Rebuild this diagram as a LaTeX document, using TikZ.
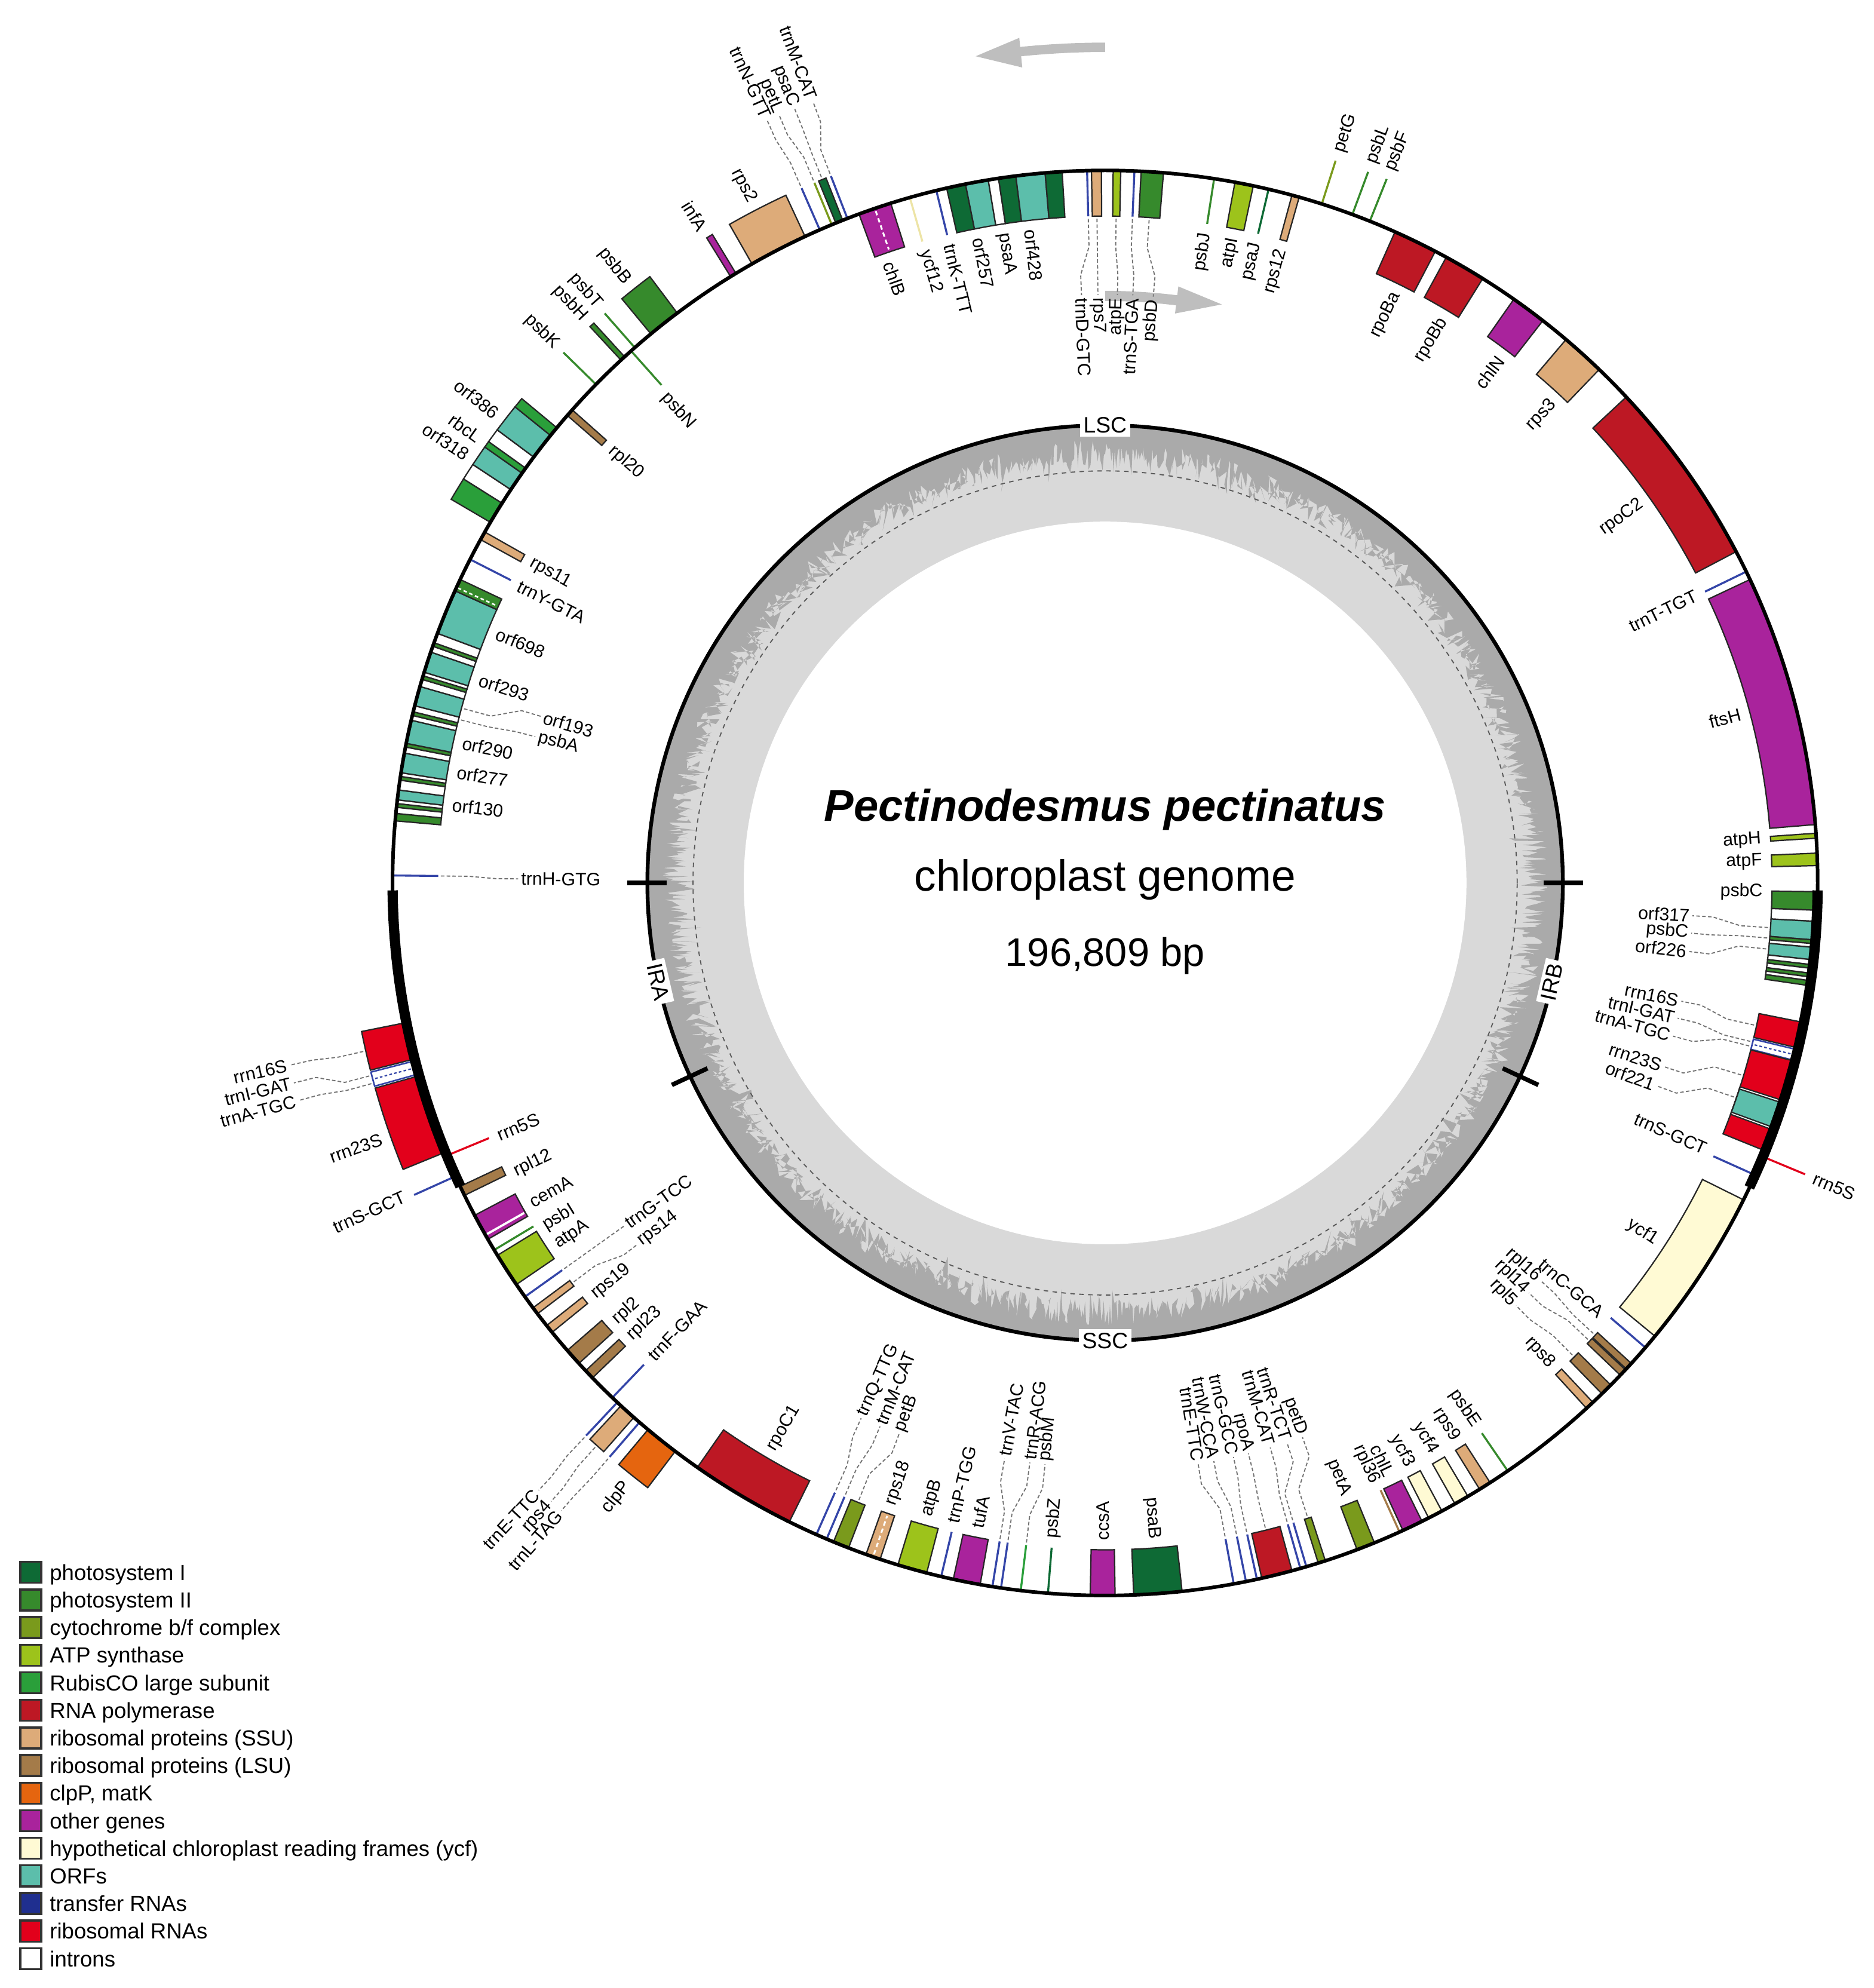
\documentclass[tikz,border=0pt]{standalone}
\usepackage{fontspec}
\setmainfont{Liberation Sans}
\definecolor{cPSI}{HTML}{0E6A35}
\definecolor{cPSII}{HTML}{368A2C}
\definecolor{cCYT}{HTML}{7A9A1C}
\definecolor{cATP}{HTML}{9DC31B}
\definecolor{cRBC}{HTML}{2A9F3A}
\definecolor{cRNAP}{HTML}{BD1824}
\definecolor{cRPS}{HTML}{DDAB79}
\definecolor{cRPL}{HTML}{A47B49}
\definecolor{cCLP}{HTML}{E5650F}
\definecolor{cOTH}{HTML}{A9239C}
\definecolor{cYCF}{HTML}{FFFAD4}
\definecolor{cYCFl}{HTML}{EDE4A6}
\definecolor{cORF}{HTML}{5CBEAB}
\definecolor{cTRNA}{HTML}{1F2F8F}
\definecolor{cTRNAl}{HTML}{3445A8}
\definecolor{cRRNA}{HTML}{E2001B}
\definecolor{gcLight}{HTML}{D9D9D9}
\definecolor{gcDark}{HTML}{AAAAAA}
\definecolor{arrGray}{HTML}{BEBEBE}
% gene boxes (angles clockwise from top)
\newcommand\gIn[3]{\filldraw[gbox,fill=#3] ({90-(#1)}:562) arc[start angle={90-(#1)},end angle={90-(#2)},radius=562] -- ({90-(#2)}:526) arc[start angle={90-(#2)},end angle={90-(#1)},radius=526] -- cycle;}
\newcommand\gOut[3]{\filldraw[gbox,fill=#3] ({90-(#1)}:562) arc[start angle={90-(#1)},end angle={90-(#2)},radius=562] -- ({90-(#2)}:598) arc[start angle={90-(#2)},end angle={90-(#1)},radius=598] -- cycle;}
\newcommand\lIn[2]{\draw[#2,line width=0.45pt] ({90-(#1)}:562) -- ({90-(#1)}:526);}
\newcommand\lOut[2]{\draw[#2,line width=0.45pt] ({90-(#1)}:562) -- ({90-(#1)}:598);}
% labels
\newcommand\labRO[4]{\node[glabel,anchor=west,rotate={90-(#1)}] (#4) at ({90-(#1)}:#2) {#3};}
\newcommand\labRI[4]{\node[glabel,anchor=east,rotate={90-(#1)}] (#4) at ({90-(#1)}:#2) {#3};}
\newcommand\labLO[4]{\node[glabel,anchor=east,rotate={270-(#1)}] (#4) at ({90-(#1)}:#2) {#3};}
\newcommand\labLI[4]{\node[glabel,anchor=west,rotate={270-(#1)}] (#4) at ({90-(#1)}:#2) {#3};}
% leaders
\newcommand\ldIn[4]{\draw[leader] ({90-(#1)}:524) -- ({90-(#1)}:502) -- ({90-(#2)}:480) -- (#3.#4);}
\newcommand\ldOut[4]{\draw[leader] ({90-(#1)}:600) -- ({90-(#1)}:620) -- ({90-(#2)}:641) -- (#3.#4);}
% legend
\newcommand\legitem[4]{\node[legsq,fill=#2] (lb#4) at (-847.3,{-543.8-21.76*#1}) {};
 \node[legtext,anchor=base west] (lt#4) at (-833,{-550.0-21.76*#1}) {#3};}
\begin{document}
\begin{tikzpicture}[x=0.1mm,y=0.1mm,
 gbox/.style={draw=black!85,line width=0.3pt},
 glabel/.style={font=\fontsize{4.05}{5}\selectfont,inner sep=0.5pt},
 leader/.style={draw=black!55,line width=0.25pt,dash pattern=on 0.8pt off 0.5pt},
 ringlab/.style={fill=white,inner sep=0.8pt,font=\fontsize{5}{6}\selectfont},
 legsq/.style={draw=black!80,line width=0.45pt,minimum size=1.65mm,inner sep=0pt},
 legtext/.style={font=\fontsize{4.9}{6}\selectfont,inner sep=0pt}]
\useasboundingbox (-871.6,-871.6) rectangle (606.4,696.4);

% ---------- GC ring ----------
\fill[gcLight] (0,0) circle[radius=361];
\fill[white] (0,0) circle[radius=285];
\pgfmathsetseed{11}
\fill[gcDark,even odd rule] (0,0) circle[radius=361]
  plot[samples=2161,domain=0:360,variable=\t] (\t:{361-11-20*rnd-22*rnd*rnd*rnd}) -- cycle;
\draw[black!65,line width=0.25pt,dash pattern=on 1pt off 1pt] (0,0) circle[radius=325];
\draw[line width=0.85pt] (0,0) circle[radius=361];
\foreach \a in {90,115,245,270} \draw[line width=1pt] ({90-\a}:346) -- ({90-\a}:377);
\node[ringlab] (LSC) at (90:361) {LSC};
\node[ringlab] (SSC) at (-90:361) {SSC};
\node[ringlab,rotate=77] (IRB) at ({90-102.5}:361) {IRB};
\node[ringlab,rotate=-77] (IRA) at ({90-257.5}:361) {IRA};

% ---------- strand arrows ----------
\fill[arrGray] (90:655.4) arc[start angle=90,end angle=95.8,radius=655.4] -- (95.8:646.5) -- (98.9:660) -- (95.8:670) -- (95.8:662.8) arc[start angle=95.8,end angle=90,radius=662.8] -- cycle;
\fill[arrGray] (90:459) arc[start angle=90,end angle=83,radius=459] -- (83:452.5) -- (78.6:465.5) -- (83:474) -- (83:467) arc[start angle=83,end angle=90,radius=467] -- cycle;

% ---------- genes ----------
\gIn{0.65}{1.26}{cATP}
\lIn{2.36}{cTRNAl}
\gIn{2.9}{4.7}{cPSII}
\lIn{8.8}{cPSII}
\gIn{10.5}{12.0}{cATP}
\lIn{13.26}{cPSI}
\gIn{15.2}{15.8}{cRPS}
\lOut{17.7}{cCYT}
\lOut{20.3}{cPSII}
\lOut{21.8}{cPSII}
\gIn{24.0}{27.6}{cRNAP}
\gIn{28.6}{32.0}{cRNAP}
\gIn{35.0}{37.9}{cOTH}
\gIn{40.3}{43.9}{cRPS}
\gIn{47.0}{62.3}{cRNAP}
\lIn{64.1}{cTRNAl}
\gIn{64.8}{85.3}{cOTH}
\gIn{86.0}{86.4}{cATP}
\gIn{87.6}{88.6}{cATP}
% psbC block
\gIn{90.7}{92.2}{cPSII}
\gIn{92.2}{93.1}{white}
\gIn{93.1}{94.6}{cORF}
\gIn{94.6}{94.9}{cPSII}
\gIn{94.9}{95.2}{white}
\gIn{95.2}{96.2}{cORF}
\gIn{96.2}{96.6}{white}
\gIn{96.6}{96.9}{cPSII}
\gIn{96.9}{97.3}{white}
\gIn{97.3}{97.6}{cPSII}
\gIn{97.6}{97.9}{white}
\gIn{97.9}{98.3}{cPSII}
% IRB rRNA operon
\gIn{101.3}{103.4}{cRRNA}
\filldraw[fill=white,draw=cTRNAl,line width=0.35pt] ({90-103.55}:562) arc[start angle={90-103.55},end angle={90-104.45},radius=562] -- ({90-104.45}:526) arc[start angle={90-104.45},end angle={90-103.55},radius=526] -- cycle;
\draw[cTRNAl,line width=0.3pt,dash pattern=on 0.6pt off 0.5pt] ({90-104}:561) -- ({90-104}:527);
\gIn{104.5}{112.1}{cRRNA}
\gIn{107.8}{110.3}{white}
\gIn{108.0}{110.1}{cORF}
\lOut{112.6}{cRRNA}
\lIn{114.2}{cTRNAl}
\gIn{116.4}{129.5}{cYCF}
\lIn{130.7}{cTRNAl}
\gIn{132.4}{133.0}{cRPL}
\gIn{133.1}{133.7}{cRPL}
\gIn{134.8}{135.8}{cRPL}
\gIn{136.8}{137.5}{cRPS}
\lIn{145.6}{cPSII}
\gIn{147.3}{148.3}{cRPS}
\gIn{149.4}{150.6}{cYCF}
\gIn{151.8}{153.0}{cYCF}
\gIn{153.6}{155.3}{cOTH}
\lIn{155.6}{cRPL}
\gIn{157.8}{159.3}{cCYT}
\gIn{162.0}{162.6}{cCYT}
\lIn{163.6}{cTRNAl}
\lIn{164.1}{cTRNAl}
\gIn{164.8}{167.3}{cRNAP}
\lIn{167.7}{cTRNAl}
\lIn{168.6}{cTRNAl}
\lIn{169.6}{cTRNAl}
\gIn{173.8}{177.7}{cPSI}
\gIn{179.2}{181.2}{cOTH}
\lIn{184.6}{cPSI}
\lIn{186.8}{cRBC}
\lIn{188.4}{cTRNAl}
\lIn{189.1}{cTRNAl}
\gIn{190.1}{192.3}{cOTH}
\lIn{193.3}{cTRNAl}
\gIn{194.5}{196.9}{cATP}
\gIn{198.4}{199.6}{cRPS}
\draw[white,line width=0.4pt,dash pattern=on 1pt off 0.7pt] ({90-199}:560) -- ({90-199}:528);
\gIn{201.1}{202.4}{cCYT}
\lIn{203.0}{cTRNAl}
\lIn{203.9}{cTRNAl}
\gIn{206.3}{214.9}{cRNAP}
\gOut{217.1}{219.9}{cCLP}
\lOut{220.8}{cTRNAl}
\gOut{221.4}{222.8}{cRPS}
\lOut{223.2}{cTRNAl}
\lIn{223.75}{cTRNAl}
\gIn{226.0}{226.8}{cRPL}
\gIn{227.6}{229.0}{cRPL}
\gIn{230.9}{231.6}{cRPS}
\gIn{232.8}{233.4}{cRPS}
\lIn{234.5}{cTRNAl}
\gIn{235.7}{238.5}{cATP}
\lIn{239.0}{cPSII}
\gIn{240.0}{242.2}{cOTH}
\draw[white,line width=0.5pt] ({90-240.4}:561) -- ({90-240.4}:527);
\gIn{244.0}{244.8}{cRPL}
\lOut{245.7}{cTRNAl}
\lIn{247.5}{cRRNA}
% IRA rRNA operon (outside)
\gOut{247.8}{254.3}{cRRNA}
\filldraw[fill=white,draw=cTRNAl,line width=0.35pt] ({90-254.45}:562) arc[start angle={90-254.45},end angle={90-255.55},radius=562] -- ({90-255.55}:598) arc[start angle={90-255.55},end angle={90-254.45},radius=598] -- cycle;
\draw[cTRNAl,line width=0.3pt,dash pattern=on 0.6pt off 0.5pt] ({90-255}:563) -- ({90-255}:597);
\gOut{255.7}{258.7}{cRRNA}
\lIn{270.6}{cTRNAl}
% psbA / orf block
\gIn{275.0}{275.6}{cPSII}
\gIn{275.6}{276.1}{white}
\gIn{276.1}{276.4}{cPSII}
\gIn{276.4}{276.7}{white}
\gIn{276.7}{277.5}{cORF}
\gIn{277.5}{278.3}{white}
\gIn{278.3}{278.6}{cPSII}
\gIn{278.6}{278.9}{white}
\gIn{278.9}{280.5}{cORF}
\gIn{280.5}{281.0}{white}
\gIn{281.0}{281.3}{cPSII}
\gIn{281.3}{283.2}{cORF}
\gIn{283.2}{283.6}{white}
\gIn{283.6}{283.9}{cPSII}
\gIn{283.9}{284.4}{white}
\gIn{284.4}{286.0}{cORF}
\gIn{286.0}{286.6}{white}
\gIn{286.6}{286.9}{cPSII}
\gIn{286.9}{287.2}{white}
\gIn{287.2}{288.9}{cORF}
\gIn{288.9}{289.4}{white}
\gIn{289.4}{289.7}{cPSII}
\gIn{289.7}{290.5}{white}
\gIn{290.5}{294.2}{cORF}
\gIn{294.2}{295.2}{cPSII}
\draw[white,line width=0.35pt,dash pattern=on 0.8pt off 0.6pt] ({90-294.5}:561) -- ({90-294.5}:527);
\lIn{297.0}{cTRNAl}
\gIn{298.8}{299.5}{cRPS}
% rbcL / orf block (outside)
\gOut{300.4}{302.2}{cRBC}
\gOut{302.2}{303.5}{white}
\gOut{303.5}{305.1}{cORF}
\gOut{305.1}{305.6}{cRBC}
\gOut{305.6}{306.7}{white}
\gOut{306.7}{308.9}{cORF}
\gOut{308.9}{309.7}{cRBC}
\gIn{311.0}{311.6}{cRPL}
\lOut{314.4}{cPSII}
\gOut{317.2}{317.6}{cPSII}
\lIn{318.3}{cPSII}
\lOut{318.7}{cPSII}
\gOut{320.4}{323.1}{cPSII}
\gOut{328.3}{328.8}{cOTH}
\gOut{330.3}{335.1}{cRPS}
\lOut{336.4}{cTRNAl}
\lOut{337.45}{cCYT}
\gOut{337.8}{338.4}{cPSI}
\lOut{338.8}{cTRNAl}
\gIn{339.8}{342.5}{cOTH}
\draw[white,line width=0.4pt,dash pattern=on 1pt off 0.7pt] ({90-341.15}:560) -- ({90-341.15}:528);
\lIn{344.1}{cYCFl}
\lIn{346.3}{cTRNAl}
% psaA block
\gIn{347.15}{348.7}{cPSI}
\gIn{348.7}{350.56}{cORF}
\gIn{350.56}{351.4}{white}
\gIn{351.4}{352.8}{cPSI}
\gIn{352.8}{355.17}{cORF}
\gIn{355.17}{356.54}{cPSI}
\lIn{358.55}{cTRNAl}
\gIn{358.9}{359.7}{cRPS}

% ---------- outer circle and IR ----------
\draw[line width=0.8pt] (0,0) circle[radius=562];
\draw[line width=2.3pt] ({90-90.6}:562) arc[start angle={90-90.6},end angle={90-115.3},radius=562];
\draw[line width=2.3pt] ({90-244.8}:562) arc[start angle={90-244.8},end angle={90-269.4},radius=562];

% ---------- standard labels ----------
\labRI{8.8}{521}{psbJ}{s1}
\labRI{11.25}{521}{atpI}{s2}
\labRI{13.3}{521}{psaJ}{s3}
\labRI{15.6}{521}{rps12}{s4}
\labRO{17.8}{603}{petG}{s5}
\labRO{20.3}{603}{psbL}{s6}
\labRO{21.8}{603}{psbF}{s7}
\labRI{26.3}{521}{rpoBa}{s8}
\labRI{31.0}{521}{rpoBb}{s9}
\labRI{37.0}{521}{chlN}{s10}
\labRI{43.0}{521}{rps3}{s11}
\labRI{54.7}{521}{rpoC2}{s12}
\labRI{64.0}{521}{trnT-TGT}{s13}
\labRI{75.1}{521}{ftsH}{s14}
\labRI{86.2}{521}{atpH}{s15}
\labRI{88.1}{521}{atpF}{s16}
\labRI{90.8}{521}{psbC}{s17}
\labRO{112.6}{603}{rrn5S}{s18}
\labRI{113.9}{521}{trnS-GCT}{s19}
\labRI{123.0}{521}{ycf1}{s20}
\labRI{131.0}{521}{trnC-GCA}{s21}
\labRI{137.2}{521}{rps8}{s22}
\labRI{145.6}{521}{psbE}{s23}
\labRI{147.8}{521}{rps9}{s24}
\labRI{150.0}{521}{ycf4}{s25}
\labRI{152.4}{521}{ycf3}{s26}
\labRI{154.35}{521}{chlL}{s27}
\labRI{155.8}{521}{rpl36}{s28}
\labRI{158.55}{521}{petA}{s29}
\labRI{175.75}{521}{psaB}{s30}
\labLI{180.2}{521}{ccsA}{s31}
\labLI{184.6}{521}{psbZ}{s32}
\labLI{191.2}{521}{tufA}{s33}
\labLI{193.4}{521}{trnP-TGG}{s34}
\labLI{195.7}{521}{atpB}{s35}
\labLI{199.0}{521}{rps18}{s36}
\labLI{210.5}{521}{rpoC1}{s37}
\labLO{218.5}{603}{clpP}{s38}
\labLI{223.7}{521}{trnF-GAA}{s39}
\labLI{226.3}{521}{rpl23}{s40}
\labLI{228.2}{521}{rpl2}{s41}
\labLI{231.1}{521}{rps19}{s42}
\labLI{236.6}{521}{atpA}{s43}
\labLI{238.5}{521}{psbI}{s44}
\labLI{240.9}{521}{cemA}{s45}
\labLI{243.9}{521}{rpl12}{s46}
\labLO{245.9}{603}{trnS-GCT}{s47}
\labLI{247.4}{521}{rrn5S}{s48}
\labLO{250.5}{603}{rrn23S}{s49}
\labLI{276.8}{521}{orf130}{s50}
\labLI{279.7}{521}{orf277}{s51}
\labLI{282.3}{521}{orf290}{s52}
\labLI{288.0}{521}{orf293}{s53}
\labLI{292.3}{521}{orf698}{s54}
\labLI{296.9}{521}{trnY-GTA}{s55}
\labLI{299.2}{521}{rps11}{s56}
\labLO{303.8}{603}{orf318}{s57}
\labLO{305.4}{603}{rbcL}{s58}
\labLO{307.6}{603}{orf386}{s59}
\labLI{311.3}{521}{rpl20}{s60}
\labLO{314.4}{603}{psbK}{s61}
\labLO{317.3}{603}{psbH}{s62}
\labLI{317.9}{521}{psbN}{s63}
\labLO{318.75}{603}{psbT}{s64}
\labLO{321.5}{603}{psbB}{s65}
\labLO{328.4}{603}{infA}{s66}
\labLO{332.6}{603}{rps2}{s67}
\labLI{340.8}{521}{chlB}{s68}
\labLI{344.1}{521}{ycf12}{s69}
\labLI{346.3}{521}{trnK-TTT}{s70}
\labLI{348.9}{521}{orf257}{s71}
\labLI{351.1}{521}{psaA}{s72}
\labLI{353.5}{521}{orf428}{s73}

% ---------- labels with leaders ----------
\labLO{336.1}{658}{trnN-GTT}{lA1} \ldOut{336.4}{336.1}{lA1}{east}
\labLO{337.0}{658}{petL}{lA2} \ldOut{337.45}{337.0}{lA2}{east}
\labLO{338.15}{658}{psaC}{lA3} \ldOut{338.1}{338.15}{lA3}{east}
\labLO{339.5}{658}{trnM-CAT}{lA4} \ldOut{338.8}{339.5}{lA4}{east}

\labLI{357.7}{464}{trnD-GTC}{lB1} \ldIn{358.55}{357.7}{lB1}{west}
\labLI{359.3}{464}{rps7}{lB2} \ldIn{359.3}{359.3}{lB2}{west}
\labRI{1.2}{464}{atpE}{lB3} \ldIn{0.95}{1.2}{lB3}{east}
\labRI{2.7}{464}{trnS-TGA}{lB4} \ldIn{2.36}{2.7}{lB4}{east}
\labRI{4.7}{464}{psbD}{lB5} \ldIn{3.8}{4.7}{lB5}{east}

\labRI{93.2}{464}{orf317}{lC1} \ldIn{93.85}{93.2}{lC1}{east}
\labRI{94.9}{464}{psbC}{lC2} \ldIn{94.75}{94.9}{lC2}{east}
\labRI{96.7}{464}{orf226}{lC3} \ldIn{95.7}{96.7}{lC3}{east}

\labRI{101.6}{464}{rrn16S}{lD1} \ldIn{102.35}{101.6}{lD1}{east}
\labRI{103.3}{464}{trnI-GAT}{lD2} \ldIn{103.8}{103.3}{lD2}{east}
\labRI{105.1}{464}{trnA-TGC}{lD3} \ldIn{104.2}{105.1}{lD3}{east}
\labRI{108.2}{464}{rrn23S}{lD4} \ldIn{106.8}{108.2}{lD4}{east}
\labRI{110.2}{464}{orf221}{lD5} \ldIn{108.8}{110.2}{lD5}{east}

\labRI{132.4}{465}{rpl16}{lE1} \ldIn{132.7}{132.4}{lE1}{east}
\labRI{134.05}{465}{rpl14}{lE2} \ldIn{133.4}{134.05}{lE2}{east}
\labRI{135.8}{465}{rpl5}{lE3} \ldIn{135.3}{135.8}{lE3}{east}

\labRI{160.4}{464}{petD}{lF1} \ldIn{162.3}{160.4}{lF1}{east}
\labRI{162.0}{464}{trnR-TCT}{lF2} \ldIn{163.6}{162.0}{lF2}{east}
\labRI{163.7}{464}{trnM-CAT}{lF3} \ldIn{164.1}{163.7}{lF3}{east}
\labRI{165.9}{464}{rpoA}{lF4} \ldIn{166.05}{165.9}{lF4}{east}
\labRI{167.4}{464}{trnG-GCC}{lF5} \ldIn{167.7}{167.4}{lF5}{east}
\labRI{169.35}{464}{trnW-CCA}{lF6} \ldIn{168.6}{169.35}{lF6}{east}
\labRI{170.9}{464}{trnE-TTC}{lF7} \ldIn{169.6}{170.9}{lF7}{east}

\labLI{185.9}{461}{psbM}{lG1} \ldIn{186.8}{185.9}{lG1}{west}
\labLI{187.4}{461}{trnR-ACG}{lG2} \ldIn{188.4}{187.4}{lG2}{west}
\labLI{189.9}{461}{trnV-TAC}{lG3} \ldIn{189.1}{189.9}{lG3}{west}

\labLI{200.5}{464}{petB}{lH1} \ldIn{201.75}{200.5}{lH1}{west}
\labLI{202.5}{464}{trnM-CAT}{lH2} \ldIn{203.0}{202.5}{lH2}{west}
\labLI{204.5}{464}{trnQ-TTG}{lH3} \ldIn{203.9}{204.5}{lH3}{west}

\labLO{220.9}{655}{trnL-TAG}{lI1} \ldOut{220.8}{220.9}{lI1}{east}
\labLO{221.85}{655}{rps4}{lI2} \ldOut{222.1}{221.85}{lI2}{east}
\labLO{223.0}{655}{trnE-TTC}{lI3} \ldOut{223.2}{223.0}{lI3}{east}

\labLI{232.3}{466}{rps14}{lJ1} \ldIn{233.1}{232.3}{lJ1}{west}
\labLI{234.5}{466}{trnG-TCC}{lJ2} \ldIn{234.5}{234.5}{lJ2}{west}

\labLO{254.9}{659}{trnA-TGC}{lK1} \ldOut{254.7}{254.9}{lK1}{east}
\labLO{256.15}{659}{trnI-GAT}{lK2} \ldOut{255.3}{256.15}{lK2}{east}
\labLO{257.4}{659}{rrn16S}{lK3} \ldOut{257.2}{257.4}{lK3}{east}

\labLI{270.4}{463}{trnH-GTG}{lL1} \ldIn{270.6}{270.4}{lL1}{west}

\labLI{284.4}{464}{psbA}{lM1} \ldIn{284.2}{284.4}{lM1}{west}
\labLI{286.45}{464}{orf193}{lM2} \ldIn{285.2}{286.45}{lM2}{west}

% ---------- centre text ----------
\node[font=\fontsize{9.95}{12}\selectfont\bfseries\itshape,anchor=base,inner sep=0pt] (title) at (0,49) {Pectinodesmus pectinatus};
\node[font=\fontsize{9.8}{11}\selectfont,anchor=base,inner sep=0pt] (subtitle) at (0,-6.3) {chloroplast genome};
\node[font=\fontsize{8.95}{11}\selectfont,anchor=base,inner sep=0pt] (size) at (0,-65.9) {196,809 bp};

% ---------- legend ----------
\legitem{0}{cPSI}{photosystem I}{1}
\legitem{1}{cPSII}{photosystem II}{2}
\legitem{2}{cCYT}{cytochrome b/f complex}{3}
\legitem{3}{cATP}{ATP synthase}{4}
\legitem{4}{cRBC}{RubisCO large subunit}{5}
\legitem{5}{cRNAP}{RNA polymerase}{6}
\legitem{6}{cRPS}{ribosomal proteins (SSU)}{7}
\legitem{7}{cRPL}{ribosomal proteins (LSU)}{8}
\legitem{8}{cCLP}{clpP, matK}{9}
\legitem{9}{cOTH}{other genes}{10}
\legitem{10}{cYCF}{hypothetical chloroplast reading frames (ycf)}{11}
\legitem{11}{cORF}{ORFs}{12}
\legitem{12}{cTRNA}{transfer RNAs}{13}
\legitem{13}{cRRNA}{ribosomal RNAs}{14}
\legitem{14}{white}{introns}{15}
\end{tikzpicture}
\end{document}
